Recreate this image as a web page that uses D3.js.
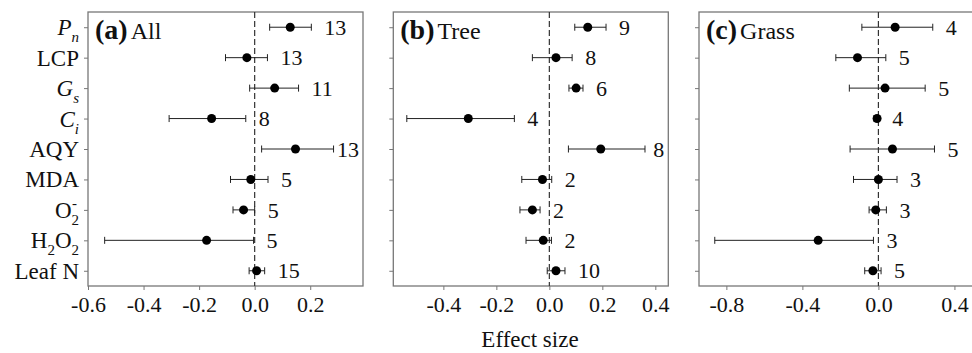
<!DOCTYPE html>
<html>
<head>
<meta charset="utf-8">
<script src="https://cdn.jsdelivr.net/npm/d3@7"></script>
<style>
  body { margin: 0; background: #fff; }
  svg text { fill: #111; }
</style>
</head>
<body>
<div id="my_dataviz"></div>
<script>
// row labels (top to bottom)
var rows = ["Pn", "LCP", "Gs", "Ci", "AQY", "MDA", "O2", "H2O2", "LeafN"];

// (a) All
var allMean = [0.128, -0.028, 0.072, -0.155, 0.147, -0.014, -0.040, -0.173, 0.007];
var allLo   = [0.054, -0.105, -0.018, -0.308, 0.025, -0.087, -0.078, -0.540, -0.020];
var allHi   = [0.204, 0.046, 0.158, -0.032, 0.284, 0.048, 0.000, -0.004, 0.036];
var allN    = [13, 13, 11, 8, 13, 5, 5, 5, 15];

// (b) Tree
var treeMean = [0.145, 0.025, 0.101, -0.306, 0.194, -0.026, -0.064, -0.023, 0.025];
var treeLo   = [0.096, -0.064, 0.074, -0.538, 0.072, -0.104, -0.111, -0.088, -0.008];
var treeHi   = [0.214, 0.086, 0.127, -0.132, 0.361, 0.009, -0.035, 0.008, 0.059];
var treeN    = [9, 8, 6, 4, 8, 2, 2, 2, 10];

// (c) Grass
var grassMean = [0.088, -0.110, 0.035, -0.007, 0.074, 0.000, -0.014, -0.317, -0.029];
var grassLo   = [-0.087, -0.224, -0.153, -0.023, -0.149, -0.131, -0.049, -0.861, -0.072];
var grassHi   = [0.286, 0.039, 0.246, 0.005, 0.295, 0.098, 0.042, -0.026, 0.014];
var grassN    = [4, 5, 5, 4, 5, 3, 3, 3, 5];

// x axis ticks per panel
var ticksA = [-0.6, -0.4, -0.2, 0.0, 0.2];
var ticksB = [-0.4, -0.2, 0.0, 0.2, 0.4];
var ticksC = [-0.8, -0.4, 0.0, 0.4];

var panels = [
  {tag: "(a)", name: "All", mean: allMean, lo: allLo, hi: allHi, n: allN, ticks: ticksA, domain: [-0.6, 0.39], left: 88},
  {tag: "(b)", name: "Tree", mean: treeMean, lo: treeLo, hi: treeHi, n: treeN, ticks: ticksB, domain: [-0.589, 0.449], left: 393.3},
  {tag: "(c)", name: "Grass", mean: grassMean, lo: grassLo, hi: grassHi, n: grassN, ticks: ticksC, domain: [-0.944, 0.503], left: 699}
];

var W = 972, H = 353;
var panelW = 275, plotTop = 12, plotBottom = 286;
var serif = "'Liberation Serif', 'DejaVu Serif', serif";

var svg = d3.select("#my_dataviz")
  .append("svg")
  .attr("width", W)
  .attr("height", H);

var y = d3.scalePoint()
  .domain(rows)
  .range([plotTop, plotBottom])
  .padding(0.5);

// row labels with italics / sub- and superscripts
var labelG = svg.append("g").attr("class", "rowLabels");
rows.forEach(function(r) {
  var t = labelG.append("text")
    .attr("x", 79)
    .attr("y", y(r))
    .attr("dy", "0.35em")
    .attr("text-anchor", "end")
    .attr("font-family", serif)
    .style("font-size", "23px");
  if (r == "Pn" || r == "Gs" || r == "Ci") {
    t.append("tspan").style("font-style", "italic").text(r[0]);
    t.append("tspan").style("font-style", "italic").style("font-size", "15px").attr("dy", 7).text(r[1]);
  } else if (r == "O2") {
    t.append("tspan").text("O");
    t.append("tspan").style("font-size", "15px").attr("dy", 7).text("2");
    t.append("tspan").style("font-size", "15px").attr("dx", -7).attr("dy", -17).text("-");
  } else if (r == "H2O2") {
    t.append("tspan").text("H");
    t.append("tspan").style("font-size", "15px").attr("dy", 7).text("2");
    t.append("tspan").attr("dy", -7).text("O");
    t.append("tspan").style("font-size", "15px").attr("dy", 7).text("2");
  } else if (r == "LeafN") {
    t.text("Leaf N");
  } else {
    t.text(r);
  }
});

panels.forEach(function(p) {
  var g = svg.append("g").attr("transform", "translate(" + p.left + ",0)");

  var x = d3.scaleLinear()
    .domain(p.domain)
    .range([0, panelW]);

  // bottom axis
  var xa = g.append("g")
    .attr("transform", "translate(0," + plotBottom + ")")
    .call(d3.axisBottom(x).tickValues(p.ticks).tickSize(4).tickPadding(6)
      .tickFormat(function(d) { return d.toFixed(1); }));
  xa.attr("font-family", serif).attr("font-size", 22);
  xa.select("path.domain").remove();
  xa.selectAll("line").attr("stroke", "#777");
  xa.selectAll("text").attr("fill", "#111");

  // left axis ticks (no labels)
  var ya = g.append("g")
    .call(d3.axisLeft(y).tickSize(4).tickFormat(""));
  ya.select("path.domain").remove();
  ya.selectAll("line").attr("stroke", "#777");

  // frame
  g.append("rect")
    .attr("x", 0)
    .attr("y", plotTop)
    .attr("width", panelW)
    .attr("height", plotBottom - plotTop)
    .attr("fill", "none")
    .attr("stroke", "#777")
    .attr("stroke-width", 1.3);

  // zero line
  g.append("line")
    .attr("x1", x(0)).attr("x2", x(0))
    .attr("y1", plotTop).attr("y2", plotBottom)
    .attr("stroke", "#333")
    .attr("stroke-width", 1.2)
    .attr("stroke-dasharray", "6,3");

  // error bars
  var bars = g.selectAll("g.bar")
    .data(rows)
    .enter()
    .append("g")
    .attr("class", "bar");

  bars.append("line")
    .attr("x1", function(d, i) { return x(p.lo[i]); })
    .attr("x2", function(d, i) { return x(p.hi[i]); })
    .attr("y1", function(d) { return y(d); })
    .attr("y2", function(d) { return y(d); })
    .attr("stroke", "#222");
  bars.append("line")
    .attr("x1", function(d, i) { return x(p.lo[i]); })
    .attr("x2", function(d, i) { return x(p.lo[i]); })
    .attr("y1", function(d) { return y(d) - 3.5; })
    .attr("y2", function(d) { return y(d) + 3.5; })
    .attr("stroke", "#222");
  bars.append("line")
    .attr("x1", function(d, i) { return x(p.hi[i]); })
    .attr("x2", function(d, i) { return x(p.hi[i]); })
    .attr("y1", function(d) { return y(d) - 3.5; })
    .attr("y2", function(d) { return y(d) + 3.5; })
    .attr("stroke", "#222");
  bars.append("circle")
    .attr("cx", function(d, i) { return x(p.mean[i]); })
    .attr("cy", function(d) { return y(d); })
    .attr("r", 4.5)
    .attr("fill", "#000");

  // sample sizes, kept inside the frame
  bars.append("text")
    .attr("y", function(d) { return y(d); })
    .attr("dy", "0.35em")
    .attr("font-family", serif)
    .style("font-size", "22px")
    .text(function(d, i) { return p.n[i]; })
    .attr("x", function(d, i) {
      var w = this.getComputedTextLength();
      return Math.min(x(p.hi[i]) + 13, panelW - w - 4);
    });

  // panel title
  var title = g.append("text")
    .attr("x", 7)
    .attr("y", 39)
    .attr("font-family", serif);
  title.append("tspan").style("font-weight", "bold").style("font-size", "28px").text(p.tag);
  title.append("tspan").attr("dx", 3).style("font-size", "24px").text(p.name);
});

svg.append("text")
  .attr("x", 530)
  .attr("y", 347)
  .attr("text-anchor", "middle")
  .attr("font-family", serif)
  .style("font-size", "23px")
  .text("Effect size");
</script>
</body>
</html>
